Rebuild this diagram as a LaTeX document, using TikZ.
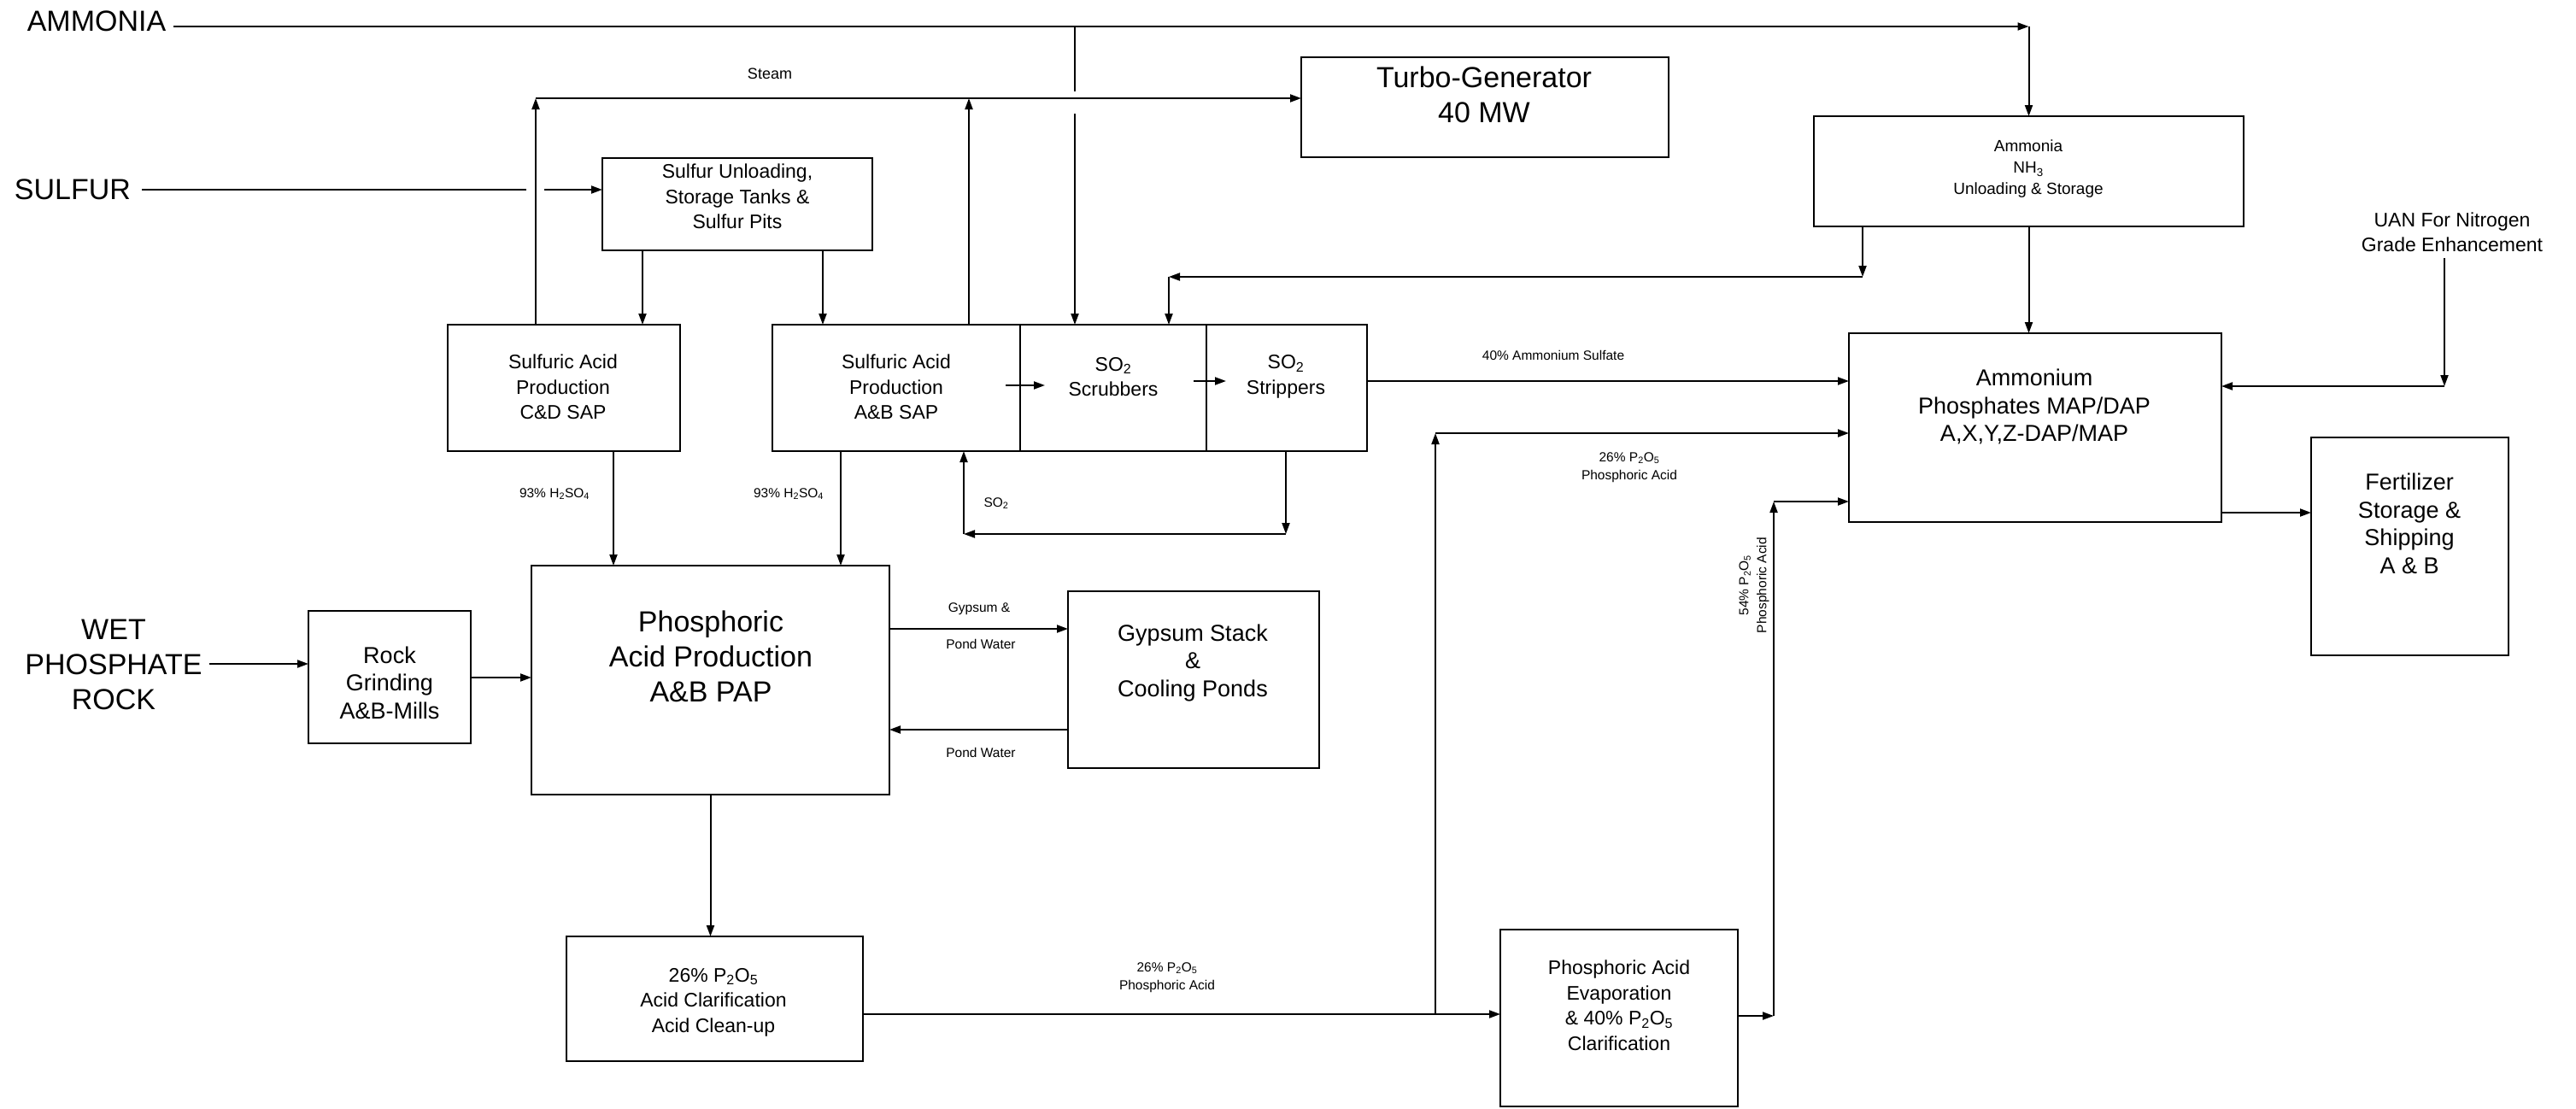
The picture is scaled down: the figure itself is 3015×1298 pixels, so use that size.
\documentclass[tikz,border=0pt]{standalone}
\usepackage{fontspec}
\setmainfont{Liberation Sans}
\usetikzlibrary{arrows.meta}
\newcommand\subs[1]{\textsubscript{#1}}
\newcommand\bx[5]{\node[box, minimum width={#4-#2}, minimum height={#5-#3}] (#1) at (#2,#3) {};}
\begin{document}
\begin{tikzpicture}[x=1pt,y=-1pt,
  box/.style={draw, line width=2.4pt, inner sep=0pt, outer sep=0pt, anchor=north west},
  con/.style={line width=2pt},
  arr/.style={con, -{Triangle[length=13pt,width=9pt]}},
  txt/.style={align=center, inner sep=0pt},
  big/.style={txt, font=\fontsize{34}{41}\selectfont},
  mid/.style={txt, font=\fontsize{27}{32.5}\selectfont},
  med/.style={txt, font=\fontsize{23}{29.5}\selectfont},
  nhf/.style={txt, font=\fontsize{19}{25}\selectfont},
  stf/.style={txt, font=\fontsize{18}{22}\selectfont},
  sml/.style={txt, font=\fontsize{15.5}{21}\selectfont},
]
\useasboundingbox (0,0) rectangle (3015,1298);

% boxes
\bx{sulf}{705}{185}{1021}{293}
\bx{cdsap}{524}{380}{796}{528}
\bx{absap}{904}{380}{1194}{528}
\bx{scrub}{1194}{380}{1412}{528}
\bx{strip}{1412}{380}{1600}{528}
\bx{turbo}{1523}{67}{1953}{184}
\bx{nhbox}{2123}{136}{2626}{265}
\bx{amph}{2164}{390}{2600}{611}
\bx{fert}{2705}{512}{2936}{767}
\bx{rock}{361}{715}{551}{870}
\bx{pap}{622}{662}{1041}{930}
\bx{gyp}{1250}{692}{1544}{899}
\bx{clar}{663}{1096}{1010}{1242}
\bx{evap}{1756}{1088}{2034}{1295}

% box texts
\node[med] (sulft) at (863,230) {Sulfur Unloading,\\Storage Tanks \&\\Sulfur Pits};
\node[med] (cdsapt) at (659,453) {Sulfuric Acid\\Production\\C\&D SAP};
\node[med] (absapt) at (1049,453) {Sulfuric Acid\\Production\\A\&B SAP};
\node[med] (scrubt) at (1303,441) {SO\subs{2}\\Scrubbers};
\node[med] (stript) at (1505,441) {SO\subs{2}\\Strippers};
\node[big] (turbot) at (1737,111) {Turbo-Generator\\40 MW};
\node[nhf] (nht) at (2374,198) {Ammonia\\NH\subs{3}\\Unloading \& Storage};
\node[mid] (ampht) at (2381,476) {Ammonium\\Phosphates MAP/DAP\\A,X,Y,Z-DAP/MAP};
\node[mid] (fertt) at (2820,613) {Fertilizer\\Storage \&\\Shipping\\A \& B};
\node[mid] (rockt) at (456,799) {Rock\\Grinding\\A\&B-Mills};
\node[big] (papt) at (832,768) {Phosphoric\\Acid Production\\A\&B PAP};
\node[mid] (gypt) at (1396,776) {Gypsum Stack\\\&\\Cooling Ponds};
\node[med] (clart) at (835,1173) {26\% P\subs{2}O\subs{5}\\Acid Clarification\\Acid Clean-up};
\node[med] (evapt) at (1895,1177) {Phosphoric Acid\\Evaporation\\\& 40\% P\subs{2}O\subs{5}\\Clarification};
\node[med] (uant) at (2870,272) {UAN For Nitrogen\\Grade Enhancement};

% input labels
\node[big] (ammt) at (113,25) {AMMONIA};
\node[big] (sult) at (85,222) {SULFUR};
\node[big] (wpr) at (133,778) {WET\\PHOSPHATE\\ROCK};

% small labels
\node[stf] (steamt) at (901,86) {Steam};
\node[sml] (h1) at (649,578) {93\% H\subs{2}SO\subs{4}};
\node[sml] (h2) at (923,578) {93\% H\subs{2}SO\subs{4}};
\node[sml] (so2l) at (1166,589) {SO\subs{2}};
\node[sml] (ast) at (1818,416) {40\% Ammonium Sulfate};
\node[sml] (p26a) at (1907,547) {26\% P\subs{2}O\subs{5}\\Phosphoric Acid};
\node[sml] (p26b) at (1366,1144) {26\% P\subs{2}O\subs{5}\\Phosphoric Acid};
\node[sml] (gy1) at (1146,713) {Gypsum \&};
\node[sml] (pw1) at (1148,754) {Pond Water};
\node[sml] (pw2) at (1148,881) {Pond Water};
\node[sml, rotate=90] (p54) at (2053,685) {54\% P\subs{2}O\subs{5}\\Phosphoric Acid};

% coordinates
\coordinate (amA) at (203,31);
\coordinate (amB) at (1258,31);
\coordinate (amB1) at (1258,107);
\coordinate (amB2) at (1258,133);
\coordinate (st1) at (627,115);
\coordinate (st2) at (1134,115);
\coordinate (su1) at (166,222);
\coordinate (su2) at (616,222);
\coordinate (su3) at (637,222);
\coordinate (sd1) at (752,0);
\coordinate (sd2) at (963,0);
\coordinate (hd1) at (718,0);
\coordinate (hd2) at (984,0);
\coordinate (ia1) at (1177,451);
\coordinate (ia2) at (1223,451);
\coordinate (ib1) at (1397,446);
\coordinate (ib2) at (1435,446);
\coordinate (sa) at (0,446);
\coordinate (lp1) at (1505,625);
\coordinate (lp2) at (1128,625);
\coordinate (nb1) at (2180,324);
\coordinate (nb2) at (1368,324);
\coordinate (u1) at (2861,302);
\coordinate (u2) at (2861,452);
\coordinate (af) at (0,600);
\coordinate (wr) at (245,777);
\coordinate (rp) at (0,793);
\coordinate (g1) at (0,736);
\coordinate (g2) at (0,854);
\coordinate (ce) at (0,1187);
\coordinate (br) at (1680,1187);
\coordinate (brt) at (1680,507);
\coordinate (eo) at (2076,1189);
\coordinate (eot) at (2076,587);

% ammonia
\draw[arr] (amA) -- (nhbox.north |- amA);
\draw[arr] (nhbox.north |- amA) -- (nhbox.north);
\draw[con] (amB) -- (amB1);
\draw[arr] (amB2) -- (amB2 |- scrub.north);
% steam
\draw[arr] (st1 |- cdsap.north) -- (st1);
\draw[arr] (st2 |- absap.north) -- (st2);
\draw[arr] (st1) -- (st1 -| turbo.west);
% sulfur
\draw[con] (su1) -- (su2);
\draw[arr] (su3) -- (su3 -| sulf.west);
\draw[arr] (sd1 |- sulf.south) -- (sd1 |- cdsap.north);
\draw[arr] (sd2 |- sulf.south) -- (sd2 |- absap.north);
% sulfuric acid to PAP
\draw[arr] (hd1 |- cdsap.south) -- (hd1 |- pap.north);
\draw[arr] (hd2 |- absap.south) -- (hd2 |- pap.north);
% internal
\draw[arr] (ia1) -- (ia2);
\draw[arr] (ib1) -- (ib2);
% strippers to ammonium phosphates
\draw[arr] (strip.east |- sa) -- (amph.west |- sa);
% SO2 loop
\draw[arr] (lp1 |- strip.south) -- (lp1);
\draw[arr] (lp1) -- (lp2);
\draw[arr] (lp2) -- (lp2 |- absap.south);
% ammonia branch to scrubbers
\draw[arr] (nb1 |- nhbox.south) -- (nb1);
\draw[arr] (nb1) -- (nb2);
\draw[arr] (nb2) -- (nb2 |- scrub.north);
\draw[arr] (nhbox.south) -- (nhbox.south |- amph.north);
% UAN
\draw[arr] (u1) -- (u2);
\draw[arr] (u2) -- (u2 -| amph.east);
% to fertilizer
\draw[arr] (amph.east |- af) -- (fert.west |- af);
% rock path
\draw[arr] (wr) -- (wr -| rock.west);
\draw[arr] (rock.east |- rp) -- (pap.west |- rp);
\draw[arr] (pap.east |- g1) -- (gyp.west |- g1);
\draw[arr] (gyp.west |- g2) -- (pap.east |- g2);
\draw[arr] (pap.south) -- (pap.south |- clar.north);
\draw[arr] (clar.east |- ce) -- (evap.west |- ce);
\draw[arr] (br) -- (brt);
\draw[arr] (brt) -- (brt -| amph.west);
\draw[arr] (evap.east |- eo) -- (eo);
\draw[arr] (eo) -- (eot);
\draw[arr] (eot) -- (eot -| amph.west);
\end{tikzpicture}
\end{document}
